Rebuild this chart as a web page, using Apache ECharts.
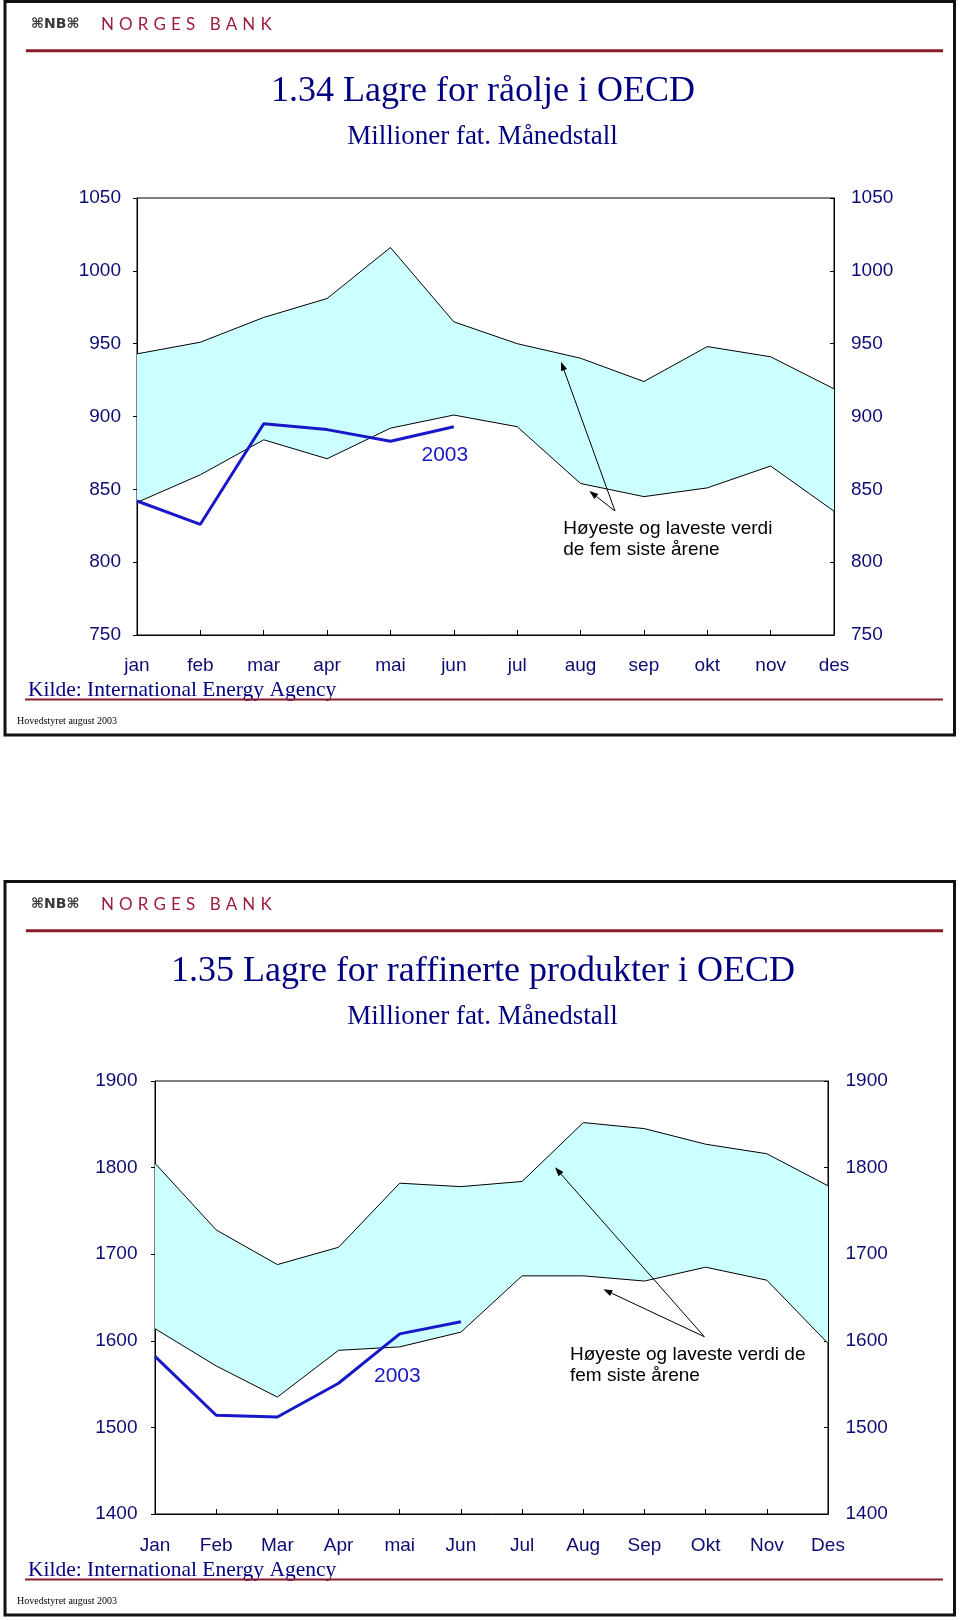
<!DOCTYPE html>
<html>
<head>
<meta charset="utf-8">
<script src="https://cdn.jsdelivr.net/npm/echarts@6/dist/echarts.min.js"></script>
<style>
html,body{margin:0;padding:0;background:#fff;}
#chart{width:960px;height:1620px;}
</style>
</head>
<body>
<div id="chart"></div>
<script>
// ---------- DATA ----------
const months1 = ['jan','feb','mar','apr','mai','jun','jul','aug','sep','okt','nov','des'];
const months2 = ['Jan','Feb','Mar','Apr','mai','Jun','Jul','Aug','Sep','Okt','Nov','Des'];

// Chart 1.34: crude oil stocks OECD (million barrels)
const crudeHigh = [943, 951, 968, 981, 1016, 965, 950, 940, 924, 948, 941, 919];
const crudeLow  = [841, 860, 884, 871, 892, 901, 893, 854, 845, 851, 866, 835];
const crude2003 = [842, 826, 895, 891, 883, 893];
const crudeTicks = [750, 800, 850, 900, 950, 1000, 1050];

// Chart 1.35: refined products stocks OECD (million barrels)
const prodHigh = [1805, 1728, 1688, 1708, 1782, 1778, 1784, 1852, 1845, 1827, 1816, 1779];
const prodLow  = [1614, 1571, 1535, 1589, 1593, 1610, 1675, 1675, 1669, 1685, 1670, 1597];
const prod2003 = [1582, 1514, 1512, 1551, 1608, 1622];
const prodTicks = [1400, 1500, 1600, 1700, 1800, 1900];

// ---------- STYLE ----------
const NAVY = '#0c0c72';
const TITLE = '#000080';
const BLUE = '#1818c8';
const MAROON = '#8b1a2b';
const BAND = '#ccffff';
const SANS = '"Liberation Sans", Arial, sans-serif';
const SERIF = '"Liberation Serif", "Times New Roman", serif';

const chart = echarts.init(document.getElementById('chart'), null, {renderer:'canvas', width:960, height:1620});

function xAxisCfg(grid, data, margin){
  return {
    gridIndex: grid, type: 'category', data: data, boundaryGap: false,
    axisLine: {show:true, lineStyle:{color:'#000', width:1}},
    axisTick: {show:true, inside:true, length:5, interval:0, lineStyle:{color:'#000', width:1}},
    axisLabel: {interval:0, color:NAVY, fontSize:19, fontFamily:SANS, margin:margin},
    splitLine: {show:false}
  };
}
function yAxisCfg(grid, ticks, pos, inside, margin){
  return {
    gridIndex: grid, type:'value', position: pos,
    min: ticks[0], max: ticks[ticks.length-1], interval: ticks[1]-ticks[0],
    axisLine: {show:true, lineStyle:{color:'#000', width:1}},
    axisTick: {show:true, inside: inside, length:4, lineStyle:{color:'#000', width:1}},
    axisLabel: {color:NAVY, fontSize:19, fontFamily:SANS, margin:margin, formatter: v => String(v)},
    splitLine: {show:false}
  };
}
function bandSeries(xi, yi, low, high, line2003, stackName){
  return [
    {type:'line', xAxisIndex:xi, yAxisIndex:yi, data: low, stack: stackName,
     symbol:'none', lineStyle:{color:'#000', width:1}, z:3, silent:true},
    {type:'line', xAxisIndex:xi, yAxisIndex:yi, data: high.map((h,i)=>h-low[i]), stack: stackName,
     symbol:'none', lineStyle:{color:'#000', width:1}, areaStyle:{color:BAND, opacity:1}, z:2, silent:true},
    {type:'line', xAxisIndex:xi, yAxisIndex:yi, data: line2003,
     symbol:'none', lineStyle:{color:BLUE, width:3}, z:4, silent:true}
  ];
}

// ---------- GRAPHIC (frames, headers, annotations) ----------
const graphic = [];
function txt(x, y, text, font, fill, align, valign){
  graphic.push({type:'text', x:x, y:y, z:50, silent:true,
    style:{text:text, font:font, fill:fill, align:align||'left', verticalAlign:valign||'middle'}});
}
function ln(x1,y1,x2,y2,color,w){
  graphic.push({type:'line', z:50, silent:true, shape:{x1:x1,y1:y1,x2:x2,y2:y2}, style:{stroke:color, lineWidth:w}});
}
function arrow(x1,y1,x2,y2){
  const dx=x2-x1, dy=y2-y1, L=Math.hypot(dx,dy), ux=dx/L, uy=dy/L;
  const hl=9, hw=3.2;
  const bx=x2-ux*hl, by=y2-uy*hl;
  ln(x1,y1,bx,by,'#000',1);
  graphic.push({type:'polygon', z:50, silent:true,
    shape:{points:[[x2,y2],[bx-uy*hw,by+ux*hw],[bx+uy*hw,by-ux*hw]]}, style:{fill:'#000'}});
}
const measCtx = document.createElement('canvas').getContext('2d');
function spacedText(x0, x1, y, text, font, fill){
  measCtx.font = font;
  const chars = text.split('');
  const widths = chars.map(c=>measCtx.measureText(c).width);
  const total = widths.reduce((a,b)=>a+b,0);
  const gap = (x1-x0-total)/(chars.length-1);
  let x = x0;
  chars.forEach((c,i)=>{
    if(c!==' ') txt(x, y, c, font, fill, 'left', 'middle');
    x += widths[i] + gap;
  });
}

function panelFrame(off, title, subtitle){
  graphic.push({type:'rect', z:50, silent:true, shape:{x:5, y:1.5+off, width:949.5, height:733.5},
    style:{fill:'none', stroke:'#111', lineWidth:3}});
  txt(31, 24.7+off, '⌘NB⌘', 'bold 14px "DejaVu Sans", sans-serif', '#3a3a3a', 'left', 'middle');
  spacedText(101, 271.7, 24.7+off, 'NORGES BANK', '17px Lato, sans-serif', '#9c1f3a');
  ln(26, 50.7+off, 943, 50.7+off, MAROON, 3);
  txt(483, 91.8+off, title, '36px ' + SERIF, TITLE, 'center', 'middle');
  txt(482.5, 136.9+off, subtitle, '27px ' + SERIF, TITLE, 'center', 'middle');
  txt(28, 690.4+off, 'Kilde: International Energy Agency', '21.5px ' + SERIF, TITLE, 'left', 'middle');
  ln(25, 699.5+off, 943, 699.5+off, MAROON, 2);
  txt(17, 721.5+off, 'Hovedstyret august 2003', '10px ' + SERIF, '#000', 'left', 'middle');
}
panelFrame(0, '1.34 Lagre for råolje i OECD', 'Millioner fat. Månedstall');
panelFrame(880, '1.35 Lagre for raffinerte produkter i OECD', 'Millioner fat. Månedstall');

// annotations panel 1
txt(421.5, 455.4, '2003', '21px ' + SANS, BLUE, 'left', 'middle');
txt(563.3, 528.4, 'Høyeste og laveste verdi', '19px ' + SANS, '#000', 'left', 'middle');
txt(563.3, 550.0, 'de fem siste årene', '19px ' + SANS, '#000', 'left', 'middle');
arrow(615, 511, 561, 361.7);
arrow(615, 511, 589.3, 491);

// annotations panel 2
txt(374, 1376.7, '2003', '21px ' + SANS, BLUE, 'left', 'middle');
txt(570, 1354.3, 'Høyeste og laveste verdi de', '19px ' + SANS, '#000', 'left', 'middle');
txt(570, 1376.0, 'fem siste årene', '19px ' + SANS, '#000', 'left', 'middle');
arrow(704.3, 1336.7, 555, 1167.3);
arrow(704.3, 1336.7, 603.3, 1289.3);

const option = {
  animation: false,
  backgroundColor: '#fff',
  grid: [
    {left:137, top:198, width:697, height:437, show:true, borderColor:'#000', borderWidth:1,
     backgroundColor:'transparent', containLabel:false, outerBoundsMode:'none'},
    {left:155, top:1081, width:673, height:433, show:true, borderColor:'#000', borderWidth:1,
     backgroundColor:'transparent', containLabel:false, outerBoundsMode:'none'}
  ],
  xAxis: [ xAxisCfg(0, months1, 21), xAxisCfg(1, months2, 22) ],
  yAxis: [
    yAxisCfg(0, crudeTicks, 'left', false, 16),
    yAxisCfg(0, crudeTicks, 'right', true, 17),
    yAxisCfg(1, prodTicks, 'left', false, 17.5),
    yAxisCfg(1, prodTicks, 'right', true, 17.5)
  ],
  series: [].concat(
    bandSeries(0, 0, crudeLow, crudeHigh, crude2003, 'crude'),
    bandSeries(1, 2, prodLow, prodHigh, prod2003, 'prod')
  ),
  graphic: graphic
};
chart.setOption(option);
</script>
</body>
</html>
